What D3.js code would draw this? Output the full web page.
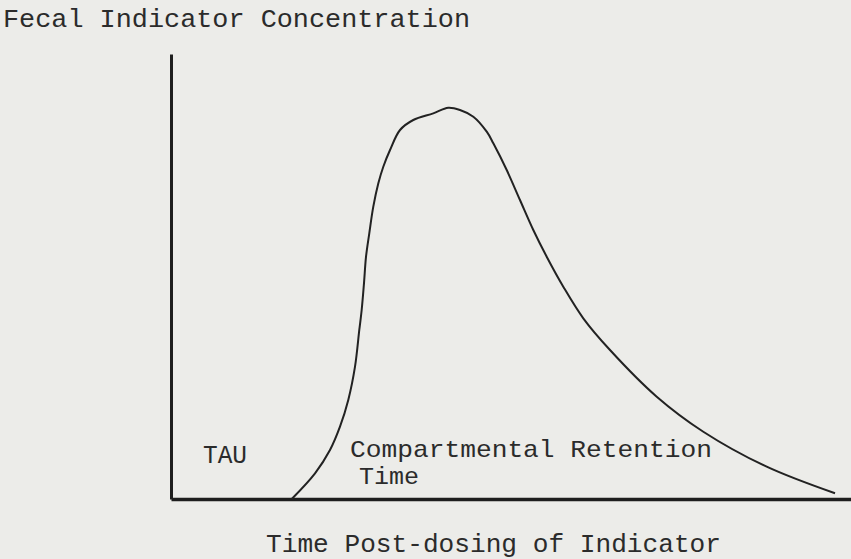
<!DOCTYPE html>
<html>
<head>
<meta charset="utf-8">
<script src="https://cdn.jsdelivr.net/npm/d3@7"></script>
<style>
  html, body { margin: 0; padding: 0; background: #ecece9; }
  svg { display: block; }
  text { font-family: "Courier New", "Liberation Mono", monospace; fill: #2b2b2b; }
</style>
</head>
<body>
<svg id="chart" width="851" height="559"></svg>
<script>
// Time post-dosing (arbitrary units, 0-100)
const timeValues = [17.75, 21.18, 23.38, 24.85, 26.07, 27.06, 27.69, 28.04, 28.38, 28.68, 29.16, 29.75, 30.49, 31.22, 32.21, 33.68, 35.63, 38.57, 40.78, 42.5, 44.46, 46.43, 47.4, 49.37, 51.32, 53.28, 55.25, 57.69, 60.63, 64.56, 71.43, 78.28, 87.6, 97.65];
// Fecal indicator concentration (arbitrary units, 0-100)
const concentrationValues = [0, 5.78, 11.01, 16.25, 22.25, 29.73, 37.98, 42.47, 48.47, 54.45, 59.71, 65.69, 70.94, 74.67, 78.43, 82.92, 85.17, 86.67, 87.93, 87.42, 85.91, 82.54, 79.93, 73.93, 67.19, 60.45, 54.45, 47.71, 40.61, 33.48, 22.99, 15.12, 7.26, 1.28];

const yAxisTitle = "Fecal Indicator Concentration";
const xAxisTitle = "Time Post-dosing of Indicator";
const annotationTau = "TAU";
const annotationCrt = ["Compartmental Retention", "Time"];

const svg = d3.select("#chart");
const W = 851, H = 559;

svg.append("rect").attr("width", W).attr("height", H).attr("fill", "#ecece9");

const x = d3.scaleLinear().domain([0, 100]).range([171, 851]);
const y = d3.scaleLinear().domain([0, 100]).range([499, 54]);

// Axes (lines only, no ticks)
const xAxis = svg.append("g").attr("transform", `translate(0,${y(0)})`)
  .call(d3.axisBottom(x).ticks(0).tickSizeOuter(0));
xAxis.select(".domain").attr("stroke", "#1e1e1e").attr("stroke-width", 3.5);

const yAxis = svg.append("g").attr("transform", `translate(${x(0)},0)`)
  .call(d3.axisLeft(y).ticks(0).tickSizeOuter(0));
yAxis.select(".domain").attr("stroke", "#1e1e1e").attr("stroke-width", 3);

// Curve
const data = timeValues.map((t, i) => ({ t, c: concentrationValues[i] }));
const line = d3.line().x(d => x(d.t)).y(d => y(d.c)).curve(d3.curveCatmullRom.alpha(0.5));
svg.append("path").datum(data)
  .attr("d", line)
  .attr("fill", "none")
  .attr("stroke", "#222")
  .attr("stroke-width", 2);

// Texts
svg.append("text").attr("x", 3).attr("y", 27)
  .attr("font-size", 26).attr("textLength", 467).attr("lengthAdjust", "spacingAndGlyphs")
  .text(yAxisTitle);

svg.append("text").attr("x", 266).attr("y", 552)
  .attr("font-size", 26).attr("textLength", 455).attr("lengthAdjust", "spacingAndGlyphs")
  .text(xAxisTitle);

svg.append("text").attr("x", 203).attr("y", 463)
  .attr("font-size", 25).attr("textLength", 44).attr("lengthAdjust", "spacingAndGlyphs")
  .text(annotationTau);

svg.append("text").attr("x", 350).attr("y", 457)
  .attr("font-size", 24).attr("textLength", 362).attr("lengthAdjust", "spacingAndGlyphs")
  .text(annotationCrt[0]);

svg.append("text").attr("x", 359).attr("y", 484)
  .attr("font-size", 24).attr("textLength", 60).attr("lengthAdjust", "spacingAndGlyphs")
  .text(annotationCrt[1]);
</script>
</body>
</html>
